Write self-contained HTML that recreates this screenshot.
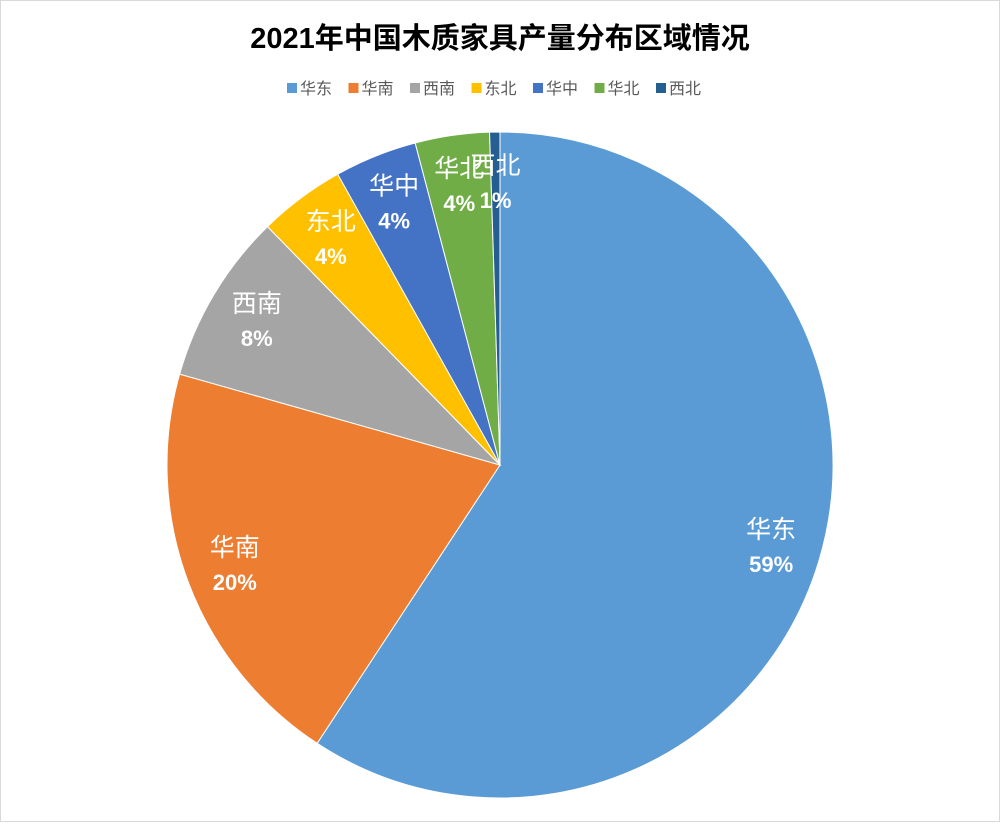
<!DOCTYPE html>
<html><head><meta charset="utf-8"><style>
body{margin:0;background:#fff;}
svg text{font-family:"Liberation Sans","Noto Sans CJK SC",sans-serif;}
</style></head><body>
<svg id="chart" width="1000" height="822" viewBox="0 0 1000 822">
<rect x="0.5" y="0.5" width="999" height="821" fill="#fff" stroke="#d9d9d9"/>
<text x="500" y="48" text-anchor="middle" font-size="29" font-weight="bold" fill="#000">2021年中国木质家具产量分布区域情况</text>
<g id="legend"></g>
<g id="slices"></g>
<g id="labels"></g>
</svg>
<script>
const categories = ["华东","华南","西南","东北","华中","华北","西北"];
const values = [59.25, 20.15, 8.3, 4.2, 4.0, 3.6, 0.5];
const pctLabels = ["59%","20%","8%","4%","4%","4%","1%"];
const colors = ["#5B9BD5","#ED7D31","#A5A5A5","#FFC000","#4472C4","#70AD47","#255E91"];
const NS="http://www.w3.org/2000/svg";
const cx=500, cy=465, r=333;
const total=values.reduce((a,b)=>a+b,0);
function pt(a,rr){return [cx+rr*Math.sin(a), cy-rr*Math.cos(a)];}
const sg=document.getElementById('slices'), lg=document.getElementById('labels');
let acc=0;
values.forEach((v,i)=>{
  const a0=acc/total*2*Math.PI; acc+=v; const a1=acc/total*2*Math.PI;
  const p0=pt(a0,r), p1=pt(a1,r);
  const large=(a1-a0)>Math.PI?1:0;
  const p=document.createElementNS(NS,'path');
  p.setAttribute('d',`M${cx},${cy}L${p0[0]},${p0[1]}A${r},${r} 0 ${large} 1 ${p1[0]},${p1[1]}Z`);
  p.setAttribute('fill',colors[i]); p.setAttribute('stroke','#fff'); p.setAttribute('stroke-width','1');
  
  
  sg.appendChild(p);
  const m=pt((a0+a1)/2,r*0.85);
  const t1=document.createElementNS(NS,'text');
  t1.setAttribute('x',m[0]); t1.setAttribute('y',m[1]-8); t1.setAttribute('text-anchor','middle');
  t1.setAttribute('font-size','25'); t1.setAttribute('fill','#fff'); t1.textContent=categories[i];
  
  
  lg.appendChild(t1);
  const t2=document.createElementNS(NS,'text');
  t2.setAttribute('x',m[0]); t2.setAttribute('y',m[1]+26); t2.setAttribute('text-anchor','middle');
  t2.setAttribute('font-size','22'); t2.setAttribute('font-weight','bold'); t2.setAttribute('fill','#fff'); t2.textContent=pctLabels[i];
  
  
  lg.appendChild(t2);
});
const leg=document.getElementById('legend');
let x=287;
categories.forEach((c,i)=>{
  const g=document.createElementNS(NS,'g');
  
  
  const s=document.createElementNS(NS,'rect');
  s.setAttribute('x',x); s.setAttribute('y',83); s.setAttribute('width',10); s.setAttribute('height',10); s.setAttribute('fill',colors[i]);
  g.appendChild(s);
  const t=document.createElementNS(NS,'text');
  t.setAttribute('x',x+13); t.setAttribute('y',94); t.setAttribute('font-size','16'); t.setAttribute('fill','#595959'); t.textContent=c;
  g.appendChild(t);
  leg.appendChild(g);
  x+=61.5;
});
</script>
</body></html>
